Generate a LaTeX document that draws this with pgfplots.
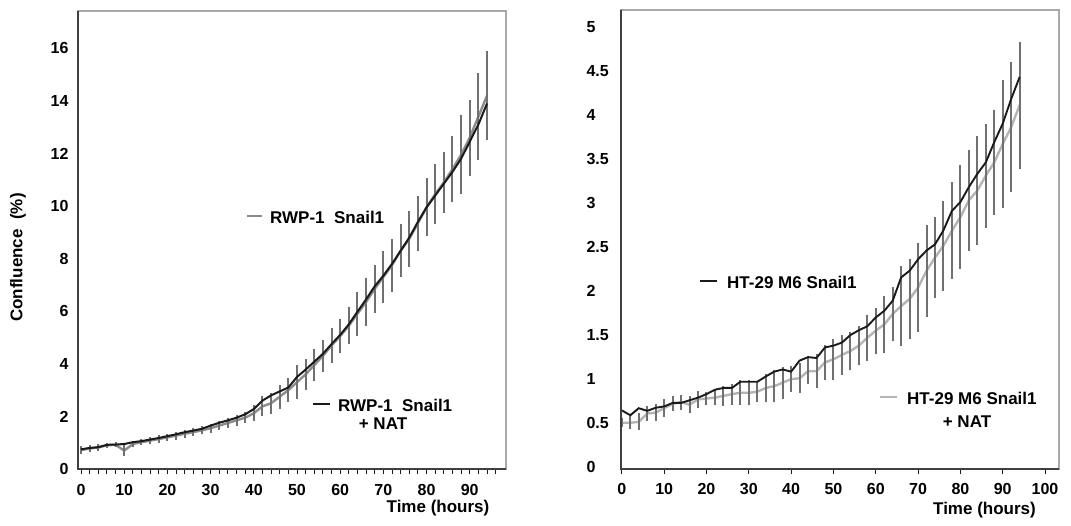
\documentclass[border=0pt]{standalone}
\usepackage{fontspec}
\setmainfont{Liberation Sans}
\usepackage{pgfplots}
\usepackage{pgfplotstable}
\pgfplotsset{compat=1.18}
\definecolor{lgray}{HTML}{8C8C8C}
\definecolor{rgray}{HTML}{B4B4B4}
\definecolor{ebar}{HTML}{707070}
\definecolor{framec}{HTML}{A8A8A8}
\definecolor{darkc}{HTML}{1A1A1A}

\pgfplotstableread{
t b g e
0 0.75 0.72 0.15
2 0.80 0.78 0.15
4 0.83 0.82 0.12
6 0.92 0.90 0.10
8 0.93 0.92 0.10
10 0.95 0.70 0.20
12 1.02 0.95 0.12
14 1.06 1.02 0.12
16 1.12 1.08 0.12
18 1.18 1.14 0.15
20 1.25 1.20 0.15
22 1.32 1.27 0.15
24 1.40 1.34 0.15
26 1.46 1.40 0.15
28 1.53 1.47 0.15
30 1.65 1.55 0.18
32 1.76 1.65 0.18
34 1.85 1.75 0.20
36 1.95 1.85 0.20
38 2.08 1.95 0.20
40 2.28 2.12 0.30
42 2.60 2.38 0.38
44 2.80 2.50 0.40
46 2.95 2.75 0.45
48 3.10 3.00 0.45
50 3.50 3.30 0.65
52 3.78 3.60 0.60
54 4.08 3.95 0.60
56 4.38 4.30 0.60
58 4.75 4.70 0.65
60 5.10 5.05 0.65
62 5.50 5.45 0.70
64 5.98 5.90 0.85
66 6.45 6.35 0.90
68 6.95 6.85 0.90
70 7.35 7.30 1.00
72 7.80 7.75 1.00
74 8.30 8.30 1.00
76 8.80 8.75 1.05
78 9.40 9.35 1.05
80 9.95 9.95 1.10
82 10.40 10.45 1.15
84 10.85 10.90 1.15
86 11.30 11.40 1.25
88 11.80 11.95 1.50
90 12.45 12.60 1.45
92 13.10 13.40 1.65
94 13.90 14.20 1.70
}\lefttab

\pgfplotstableread{
t b g e
0 0.645 0.505 0.05
2 0.59 0.505 0.075
4 0.67 0.515 0.095
6 0.64 0.61 0.085
8 0.675 0.62 0.095
10 0.69 0.67 0.10
12 0.73 0.72 0.085
14 0.73 0.74 0.085
16 0.76 0.71 0.095
18 0.79 0.77 0.095
20 0.83 0.78 0.075
22 0.88 0.79 0.085
24 0.90 0.81 0.11
26 0.90 0.83 0.12
28 0.97 0.845 0.14
30 0.97 0.845 0.14
32 0.97 0.857 0.12
34 1.03 0.90 0.155
36 1.085 0.92 0.18
38 1.11 0.96 0.18
40 1.085 1.00 0.15
42 1.21 1.01 0.17
44 1.25 1.09 0.15
46 1.24 1.09 0.19
48 1.36 1.19 0.20
50 1.38 1.225 0.23
52 1.415 1.275 0.23
54 1.50 1.32 0.22
56 1.555 1.38 0.22
58 1.60 1.47 0.26
60 1.70 1.55 0.26
62 1.775 1.62 0.32
64 1.89 1.74 0.31
66 2.155 1.83 0.455
68 2.23 1.91 0.455
70 2.36 2.04 0.50
72 2.46 2.23 0.52
74 2.53 2.38 0.46
76 2.69 2.515 0.51
78 2.91 2.685 0.55
80 3.01 2.84 0.59
82 3.18 3.03 0.57
84 3.33 3.14 0.62
86 3.46 3.31 0.59
88 3.69 3.46 0.60
90 3.90 3.67 0.73
92 4.18 3.86 0.74
94 4.43 4.11 0.72
}\righttab

\newcommand{\tickfont}{\fontsize{16}{19}\selectfont\bfseries}

\begin{document}
\begin{tikzpicture}[x=1pt,y=1pt]
\useasboundingbox (0,0) rectangle (1071,525);

\begin{axis}[at={(78pt,56pt)}, anchor=south west, scale only axis,
  width=428pt, height=458pt,
  xmin=-0.7, xmax=98.4, ymin=0, ymax=17.42,
  xtick={0,10,...,90}, minor xtick={0,2,...,96},
  ytick={0,2,...,16},
  /pgf/number format/assume math mode=true,
  tick label style={font=\tickfont},
  tick align=outside, major tick length=5pt, minor tick length=5pt,
  xtick pos=bottom, ytick style={draw=none},
  every tick/.style={darkc, line width=0.9pt},
  axis line style={framec, line width=1.3pt},
  xticklabel style={yshift=-7pt},
  yticklabel style={xshift=-1pt},
  clip=false]
\addplot[lgray, line width=2.4pt, error bars/.cd, y dir=both, y explicit,
  error mark=none, error bar style={ebar, line width=2pt}]
  table[x=t, y=g, y error=e] {\lefttab};
\addplot[darkc, line width=2pt] table[x=t, y=b] {\lefttab};
\draw[black!75, line width=1.6pt] (rel axis cs:0,1) |- (rel axis cs:1,0);
\end{axis}

\begin{axis}[at={(621pt,56pt)}, anchor=south west, scale only axis,
  width=438pt, height=459pt,
  xmin=-0.2, xmax=103.3, ymin=-0.02, ymax=5.19,
  xtick={0,10,...,100},
  ytick={0,0.5,...,5},
  /pgf/number format/assume math mode=true,
  tick label style={font=\tickfont},
  tick align=outside, major tick length=5pt,
  xtick pos=bottom, ytick style={draw=none},
  every tick/.style={darkc, line width=0.9pt},
  axis line style={framec, line width=1.3pt},
  xticklabel style={yshift=-6pt},
  yticklabel style={anchor=west, xshift=-33pt},
  clip=false]
\addplot[rgray, line width=2.4pt, error bars/.cd, y dir=both, y explicit,
  error mark=none, error bar style={ebar, line width=2pt}]
  table[x=t, y=g, y error=e] {\righttab};
\addplot[darkc, line width=1.9pt] table[x=t, y=b] {\righttab};
\draw[black!75, line width=1.6pt] (rel axis cs:0,1) |- (rel axis cs:1,0);
\end{axis}

\tikzset{lab/.style={font=\fontsize{17}{20}\selectfont\bfseries, inner sep=0pt}}
% axis labels
\node[lab, rotate=90] at (18,267.5) {Confluence\ \ (\%)};
\node[lab] at (438,17) {Time (hours)};
\node[lab] at (984.5,15) {Time (hours)};
% legends, left
\node[lab, anchor=west] at (247,308) {\textcolor{lgray}{\rule[0.33em]{15pt}{2.6pt}}\hspace{8pt}RWP-1\ \ Snail1};
\node[lab, anchor=west] at (313,120) {\textcolor{darkc}{\rule[0.33em]{17pt}{2.6pt}}\hspace{8pt}RWP-1\ \ Snail1};
\node[lab] at (383,101) {+ NAT};
% legends, right
\node[lab, anchor=west] at (700,243) {\textcolor{darkc}{\rule[0.33em]{17pt}{2.6pt}}\hspace{10pt}HT-29 M6 Snail1};
\node[lab, anchor=west] at (880,127) {\textcolor{rgray}{\rule[0.33em]{17pt}{2.6pt}}\hspace{10pt}HT-29 M6 Snail1};
\node[lab] at (967,103) {+ NAT};
\end{tikzpicture}
\end{document}
